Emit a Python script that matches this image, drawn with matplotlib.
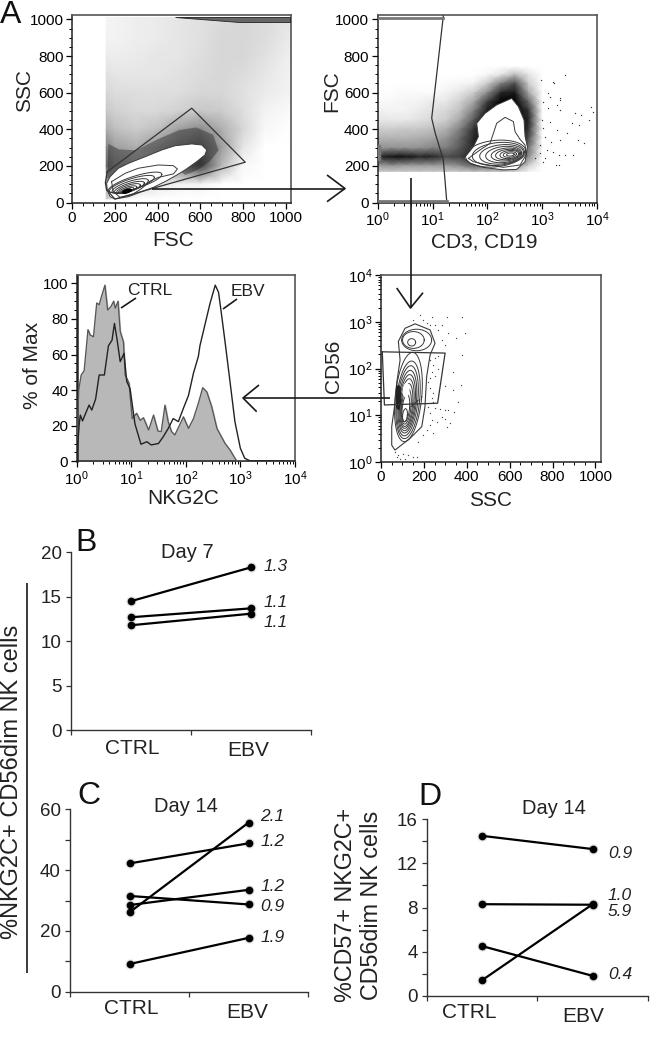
import numpy as np
import matplotlib
matplotlib.use('Agg')
import matplotlib.pyplot as plt
from matplotlib.patches import Polygon
from matplotlib.ticker import MultipleLocator

plt.rcParams['font.family'] = ['Liberation Sans', 'DejaVu Sans']
plt.rcParams['mathtext.default'] = 'regular'

W, H = 650, 1045
GREY_EDGE = '#555555'
RING = '#3a3a3a'

# --- A, top left: FSC / SSC
a1_xcols = [160, 200, 300, 400, 500, 600, 700, 800, 900, 1020]
a1_yrows = [1010, 900, 800, 700, 600, 500, 400, 300, 200, 100, 20]
a1_density = [
    [.04, .05, .07, .08, .10, .12, .14, .16, .14, .10],
    [.05, .05, .07, .08, .10, .12, .16, .16, .14, .08],
    [.08, .07, .08, .10, .10, .13, .16, .16, .12, .06],
    [.12, .10, .10, .10, .12, .14, .16, .14, .10, .05],
    [.16, .14, .13, .13, .13, .16, .16, .12, .08, .05],
    [.22, .18, .15, .15, .18, .22, .20, .13, .05, .02],
    [.32, .25, .20, .25, .38, .45, .32, .16, .03, 0],
    [.50, .38, .32, .42, .55, .65, .38, .10, 0, 0],
    [.60, .50, .40, .40, .50, .75, .28, .03, 0, 0],
    [.30, .30, .20, .10, .05, .05, 0, 0, 0, 0],
    [.20, .10, 0, 0, 0, 0, 0, 0, 0, 0],
]
a1_dense_band = [(165, 130), (170, 320), (220, 290), (300, 285), (400, 345), (500, 395), (580, 410),
                 (660, 370), (685, 285), (645, 225), (590, 180), (530, 150), (420, 240), (260, 170)]
a1_gate = [(165, 168), (560, 515), (810, 220), (201, 19), (162, 68), (156, 108)]
a1_top_wedge = [(482, 1012), (1020, 1012), (1020, 985), (780, 985)]
a1_outer = [(162, 105), (178, 141), (217, 187), (264, 214), (342, 250), (420, 287), (482, 310), (560, 320),
            (607, 314), (630, 287), (622, 260), (583, 223), (529, 178), (490, 150), (435, 114), (381, 83),
            (326, 59), (264, 32), (201, 19), (178, 32), (165, 68)]
a1_second = [(185, 114), (248, 159), (310, 187), (404, 205), (474, 201), (493, 183), (474, 156), (404, 137),
             (365, 117), (326, 77), (279, 41), (225, 28), (193, 59)]
# ring centre x, centre y, width, height
a1_rings = [(295, 110, 250, 70), (280, 100, 210, 62), (272, 90, 170, 54), (268, 82, 140, 46),
            (264, 76, 110, 38), (260, 70, 85, 30), (258, 66, 62, 22), (256, 62, 40, 14)]

# --- A, top right: CD3,CD19 / FSC, x in decades
a2_xcols = [0, .25, .5, .75, 1, 1.25, 1.5, 1.75, 2, 2.25, 2.5, 2.75, 3]
a2_yrows = [745, 700, 650, 600, 550, 500, 450, 400, 350, 300, 250, 200, 170]
a2_density = [
    [0, 0, 0, 0, 0, 0, 0, 0, 0, 0, 0, 0, 0],
    [0, 0, 0, 0, 0, 0, 0, 0, .03, .10, .25, .10, 0],
    [0, 0, 0, 0, 0, .02, .03, .05, .20, .50, .70, .20, 0],
    [0, .01, .02, .02, .02, .05, .10, .20, .45, .85, .90, .35, 0],
    [.02, .03, .04, .05, .08, .10, .18, .35, .75, 1, 1, .60, 0],
    [.06, .05, .05, .08, .12, .16, .25, .50, .90, 1, 1, .80, 0],
    [.10, .09, .09, .12, .15, .20, .35, .65, 1, 1, 1, .85, 0],
    [.20, .20, .22, .22, .25, .32, .50, .80, 1, 1, 1, .80, 0],
    [.30, .30, .30, .32, .35, .42, .60, .85, 1, 1, 1, .70, 0],
    [.42, .42, .42, .42, .48, .50, .65, .85, 1, 1, 1, .55, 0],
    [.80, .92, .92, .85, .85, .70, .75, .90, 1, 1, 1, .45, 0],
    [.38, .42, .38, .38, .38, .38, .45, .60, .55, .55, .45, .18, 0],
    [.22, .22, .22, .22, .22, .22, .22, .25, .25, .25, .20, .05, 0],
]
a2_outer = [(1.574, 241), (1.745, 305), (1.836, 360), (1.806, 433), (1.958, 487), (2.171, 533), (2.444, 569),
            (2.566, 524), (2.669, 451), (2.688, 360), (2.730, 305), (2.688, 223), (2.536, 181), (2.292, 178),
            (1.927, 192), (1.684, 214)]
a2_second = [(1.654, 241), (1.866, 287), (2.049, 323), (2.110, 378), (2.171, 433), (2.323, 465), (2.475, 442),
             (2.505, 387), (2.596, 345), (2.688, 314), (2.706, 260), (2.596, 205), (2.292, 192), (1.927, 210),
             (1.745, 223)]
a2_rings = [(2.15, 267, 1.10, 145), (2.20, 265, .95, 125), (2.26, 263, .80, 105), (2.30, 262, .66, 88),
            (2.34, 262, .54, 70), (2.37, 262, .44, 56), (2.40, 262, .34, 44), (2.41, 262, .24, 30),
            (2.42, 262, .14, 16)]
a2_gate = [(1.197, 1019), (.985, 460), (1.05, 378), (1.197, 232), (1.259, 8)]
a2_dots_dec = [3.14, 3.33, 3.02, 3.27, 3.11, 3.33, 2.99, 3.14, 3.02, 3.27, 3.54, 3.45, 3.66, 3.33, 3.05, 3.17,
               2.96, 3.08, 3.2, 3.3, 3.42, 2.96, 3.05, 3.3, 3.02, 2.87, 3.41, 3.19, 3.32, 3.59, 3.71, 3.89,
               3.92, 3.68, 3.86, 3.77, 3.56, 3.25, 3.22, 3.10, 2.98]
a2_dots_fsc = [578, 560, 551, 533, 515, 506, 451, 442, 405, 396, 433, 378, 342, 342, 360, 333,
               314, 287, 278, 260, 260, 269, 242, 205, 223, 242, 697, 660, 569, 487, 478, 524,
               496, 424, 451, 324, 260, 205, 651, 597, 670]

# --- A, lower left: histogram, x in decades
ctrl_dec = [0, .04, .085, .14, .21, .25, .31, .37, .415, .46, .52, .57, .63, .68, .71, .76, .80, .86, .89, .96,
            1.02, 1.10, 1.165, 1.225, 1.32, 1.41, 1.49, 1.55, 1.62, 1.68, 1.74, 1.80, 1.957, 2.05, 2.14, 2.23,
            2.31, 2.385, 2.475, 2.57, 2.72, 2.81, 2.92, 2.96, 4]
ctrl_pct = [0, 40, 48.5, 51, 74, 71, 70, 89, 88, 93, 99, 85, 87, 90, 86, 90, 73, 67, 48.5, 44,
            24, 27, 23, 24.5, 17.6, 26, 17, 16.7, 31.6, 22, 16.7, 14.8, 25, 18.5, 24, 32.6,
            41.4, 39, 30.7, 18.5, 10, 6.4, .7, 0, 0]
ebv_dec = [0, .05, .07, .11, .23, .28, .35, .415, .51, .585, .65, .695, .74, .80, .87, .92, .98, 1.07, 1.18, 1.29,
           1.366, 1.5, 1.59, 1.68, 1.77, 1.865, 1.957, 2.05, 2.14, 2.23, 2.26, 2.35, 2.445, 2.54, 2.6, 2.64,
           2.72, 2.81, 2.9, 3.0, 3.08, 3.18, 3.5, 4]
ebv_pct = [0, 21, 26, 22.7, 31.6, 28.8, 35, 48.5, 48.5, 65, 68, 77.5, 69, 56, 60.7, 44.8, 41, 21, 9.6, 11,
           9.2, 10, 13.9, 18.5, 24, 22.3, 29.8, 37, 49.4, 58.8, 65, 76.6, 88.8, 99, 95, 86,
           67, 44.8, 22.3, 7.3, 1.7, .2, .3, 0]

# --- A, lower right: SSC / CD56, y in decades
a4_outer = [(50, .36), (50, .755), (65, 1.255), (73, 1.68), (89, 2.18), (81, 2.58), (112, 2.86), (159, 2.955),
            (229, 2.825), (252, 2.54), (229, 2.29), (213, 1.83), (205, 1.18), (190, .755), (135, .505),
            (89, .34), (65, .255)]
a4_rings = [(128, 1.39, 124, 1.91), (126, 1.33, 109, 1.66), (124, 1.31, 96, 1.50), (123, 1.29, 84, 1.34),
            (122, 1.27, 74, 1.20), (121, 1.25, 64, 1.06), (120, 1.22, 54, .92), (118, 1.19, 44, .76),
            (116, 1.15, 34, .58), (112, 1.0, 22, .28)]
a4_upper_rings = [(166, 2.61, 140, .46), (151, 2.61, 101, .36), (143, 2.56, 37, .157)]
a4_black = [(70, 1.65), (92, 1.62), (95, 1.3), (86, 1.1), (70, 1.15)]
a4_gate = [(6, 2.357), (299, 2.33), (264, 1.257), (16, 1.22)]
a4_dots_ssc = [182, 236, 306, 376, 151, 197, 252, 283, 229, 213, 268, 314, 350, 392, 283, 299, 376, 252, 268, 229,
               244, 236, 229, 221, 252, 268, 334, 299, 334, 373, 229, 244, 236, 244, 361, 221, 252, 275, 299, 314,
               341, 229, 283, 236, 260, 299, 322, 229, 306, 213, 244, 197, 174, 65, 81, 104, 127, 151, 89, 112,
               135, 166, 73]
a4_dots_dec = [3.15, 3.11, 3.11, 3.10, 3.04, 3.03, 2.93, 2.93, 2.93, 2.97, 2.83, 2.76, 2.65, 2.76, 2.61, 2.51,
               2.29, 2.22, 2.26, 2.18, 2.08, 1.93, 1.79, 1.72, 1.83, 2.0, 1.93, 1.63, 1.54, 1.65, 1.58, 1.47,
               1.36, 1.29, 1.29, 1.18, 1.15, 1.13, 1.11, 1.11, 1.08, 1.04, .97, .90, .86, .93, .83, .79, .74,
               .68, .63, .58, .43, .22, .15, .18, .15, .11, .055, .055, .005, .11, .11]

# --- B, C, D
categories = ['CTRL', 'EBV']
b_ctrl = [14.5, 12.7, 11.8]
b_ebv = [18.3, 13.7, 13.1]
b_ratios = ['1.3', '1.1', '1.1']
b_ratio_y = [18.4, 14.35, 12.1]
c_ctrl = [26.1, 42.2, 28.5, 31.5, 9.1]
c_ebv = [55.6, 48.8, 33.5, 28.7, 17.7]
c_ratios = ['2.1', '1.2', '1.2', '0.9', '1.9']
c_ratio_y = [57.6, 49.4, 34.5, 28, 17.9]
d_ctrl = [14.5, 8.3, 1.4, 4.5]
d_ebv = [13.3, 8.25, 8.3, 1.8]
d_ratios = ['0.9', '1.0', '5.9', '0.4']
d_ratio_y = [12.9, 9.13, 7.68, 1.88]


def px_axes(fig, left, right, top, bottom):
    return fig.add_axes([left / W, 1 - bottom / H, (right - left) / W, (bottom - top) / H])


def ring(cx, cy, w, h, sx=0, sy=0):
    # sheared ellipse outline, sx/sy lean it along the population
    t = np.linspace(0, 2 * np.pi, 60)
    c, s = np.cos(t), np.sin(t)
    return cx + w / 2 * c + sx * h / 2 * s, cy + h / 2 * s + sy * w / 2 * c


def style_flow(ax):
    for side in ['top', 'right']:
        ax.spines[side].set_color(GREY_EDGE)
        ax.spines[side].set_linewidth(1.2)
    for side in ['left', 'bottom']:
        ax.spines[side].set_color('#222222')
        ax.spines[side].set_linewidth(1.1)
    ax.tick_params(which='major', length=4, width=.9, labelsize=11, pad=2)
    ax.tick_params(which='minor', length=2, width=.7)


def closed(ax, pts, color=RING, lw=.7, z=4):
    xs, ys = zip(*(list(pts) + [pts[0]]))
    ax.plot(xs, ys, color=color, lw=lw, zorder=z)


def linear_axis(axis):
    axis.set_major_locator(MultipleLocator(200))
    axis.set_minor_locator(MultipleLocator(50))


def decade_ticks(axis):
    axis.set_major_locator(matplotlib.ticker.LogLocator(base=10, numticks=6))
    axis.set_minor_locator(matplotlib.ticker.LogLocator(base=10, subs=np.arange(2, 10) * .1, numticks=6))
    axis.set_minor_formatter(matplotlib.ticker.NullFormatter())


def draw_pairs(ax, ctrl, ebv, ratios, ratio_y, ratio_x):
    for a, b in zip(ctrl, ebv):
        ax.plot([.5, 1.5], [a, b], color='#bbbbbb', marker='o', ms=6.5, lw=0, alpha=.35, zorder=2)
        ax.plot([.5, 1.5], [a, b], color='black', marker='o', ms=4.5, lw=1.6, zorder=3)
    for label, y in zip(ratios, ratio_y):
        ax.text(ratio_x, y, label, style='italic', fontsize=12.5, ha='center', va='center', color='#222222')
    ax.set_xlim(0, 2)
    ax.set_xticks([0, 1, 2])
    ax.set_xticklabels([])
    for side in ['top', 'right']:
        ax.spines[side].set_visible(False)
    for side in ['left', 'bottom']:
        ax.spines[side].set_color('#333333')
        ax.spines[side].set_linewidth(1)
    ax.tick_params(which='both', length=3.5, width=.9, labelsize=13.5, pad=3, color='#333333', labelcolor='#222222')
    ax.patch.set_alpha(0)


fig = plt.figure(figsize=(6.5, 10.45), dpi=100)

# A1
ax = px_axes(fig, 72, 291, 15, 202.5)
ax.pcolormesh(a1_xcols, a1_yrows, a1_density, cmap='gray_r', vmin=0, vmax=1, shading='gouraud', rasterized=True)
ax.add_patch(Polygon(a1_dense_band, closed=True, fc='#222222', ec='none', alpha=.42, zorder=2))
ax.add_patch(Polygon(a1_top_wedge, closed=True, fc='#666666', ec='#222222', lw=.6, zorder=3))
ax.add_patch(Polygon(a1_outer, closed=True, fc='white', ec=RING, lw=.7, zorder=3))
closed(ax, a1_second)
for cx, cy, w, h in a1_rings:
    ax.plot(*ring(cx, cy, w, h, sy=.35), color=RING, lw=.7, zorder=4)
ax.plot(*ring(256, 62, 34, 14, sy=.35), color='black', lw=1.6, zorder=4)
closed(ax, a1_gate, color='#333333', lw=.9, z=5)
ax.set_xlim(0, 1024)
ax.set_ylim(0, 1024)
linear_axis(ax.xaxis)
linear_axis(ax.yaxis)
style_flow(ax)

# A2
ax = px_axes(fig, 377.7, 597, 15, 202.5)
ax.set_xscale('log')
ax.pcolormesh(10 ** np.array(a2_xcols), a2_yrows, a2_density, cmap='gray_r', vmin=0, vmax=1, shading='gouraud',
              rasterized=True)
ax.scatter(10 ** np.array(a2_dots_dec), a2_dots_fsc, s=.9, c='#333333', lw=0, zorder=2)
ax.add_patch(Polygon([(10 ** d, f) for d, f in a2_outer], closed=True, fc='white', ec=RING, lw=.7, zorder=3))
closed(ax, [(10 ** d, f) for d, f in a2_second])
for cx, cy, w, h in a2_rings:
    xs, ys = ring(cx, cy, w, h, sy=25)
    ax.plot(10 ** xs, ys, color=RING, lw=.7, zorder=4)
gate_x, gate_y = zip(*a2_gate)
ax.plot(10 ** np.array(gate_x), gate_y, color='#333333', lw=.9, zorder=5)
ax.plot([1, 10 ** 1.197], [1010, 1010], color='#777777', lw=2, zorder=5)
ax.plot([1, 10 ** 1.259], [8, 8], color='#777777', lw=2, zorder=5)
ax.plot([1.05, 1.05], [240, 310], color='#777777', lw=2.5, zorder=5)
ax.set_xlim(1, 1e4)
ax.set_ylim(0, 1024)
decade_ticks(ax.xaxis)
linear_axis(ax.yaxis)
style_flow(ax)

# A3
ax = px_axes(fig, 76.5, 295, 275, 461.3)
ax.set_xscale('log')
ctrl_x = 10 ** np.array(ctrl_dec)
ebv_x = 10 ** np.array(ebv_dec)
ax.fill_between(ctrl_x, ctrl_pct, color='#b8b8b8', zorder=2)
ax.plot(ctrl_x, ctrl_pct, color='#555555', lw=.9, zorder=3)
ax.plot(ebv_x, ebv_pct, color='#222222', lw=1, zorder=4)
ax.set_xlim(1, 1e4)
ax.set_ylim(0, 104.7)
decade_ticks(ax.xaxis)
ax.yaxis.set_major_locator(MultipleLocator(20))
ax.yaxis.set_minor_locator(MultipleLocator(5))
style_flow(ax)
ax.spines['left'].set_linewidth(1.8)

# A4
ax = px_axes(fig, 381, 601, 275, 462)
ax.set_yscale('log')
ax.scatter(a4_dots_ssc, 10 ** np.array(a4_dots_dec), s=.9, c='#444444', lw=0, zorder=2)
ax.add_patch(Polygon([(s, 10 ** d) for s, d in a4_outer], closed=True, fc='white', ec=RING, lw=.8, zorder=3))
for cx, cy, w, h in a4_rings:
    xs, ys = ring(cx, cy, w, h, sx=20)
    ax.plot(xs, 10 ** ys, color=RING, lw=.7, zorder=4)
for cx, cy, w, h in a4_upper_rings:
    xs, ys = ring(cx, cy, w, h)
    ax.plot(xs, 10 ** ys, color=RING, lw=.7, zorder=4)
ax.add_patch(Polygon([(s, 10 ** d) for s, d in a4_black], closed=True, fc='#222222', ec='none', zorder=5))
xs, ys = ring(117, 1.54, 25, .29, sx=20)
ax.fill(xs, 10 ** ys, color='white', zorder=5)
closed(ax, [(s, 10 ** d) for s, d in a4_gate], color='#333333', lw=.9, z=6)
ax.set_xlim(0, 1026)
ax.set_ylim(1, 1e4)
decade_ticks(ax.yaxis)
linear_axis(ax.xaxis)
style_flow(ax)

# B
ax = px_axes(fig, 70.7, 310.7, 552.3, 730.3)
draw_pairs(ax, b_ctrl, b_ebv, b_ratios, b_ratio_y, 1.71)
ax.set_ylim(0, 20)
ax.set_yticks([0, 5, 10, 15, 20])

# C
ax = px_axes(fig, 70, 308, 809.3, 991.7)
draw_pairs(ax, c_ctrl, c_ebv, c_ratios, c_ratio_y, 1.70)
ax.set_ylim(0, 60)
ax.yaxis.set_major_locator(MultipleLocator(20))
ax.yaxis.set_minor_locator(MultipleLocator(10))

# D
ax = px_axes(fig, 426.7, 648, 819.3, 995.7)
draw_pairs(ax, d_ctrl, d_ebv, d_ratios, d_ratio_y, 1.747)
ax.set_ylim(0, 16)
ax.yaxis.set_major_locator(MultipleLocator(4))
ax.yaxis.set_minor_locator(MultipleLocator(2))

# overlay in pixel coordinates for arrows, letters and axis titles
ov = fig.add_axes([0, 0, 1, 1], zorder=20)
ov.set_xlim(0, W)
ov.set_ylim(H, 0)
ov.axis('off')
ov.patch.set_alpha(0)

for xs, ys in [([152, 345], [188.5, 188.5]), ([327, 345, 327], [175, 188.5, 201.7]),
               ([411, 411], [178, 308]), ([396.7, 410.5, 423], [288, 308, 292.7]),
               ([390, 243], [398, 398]), ([259, 243, 256.7], [385, 398, 411.7]),
               ([121, 136], [308, 298]), ([223, 237], [309, 299]),
               ([27, 27], [582.7, 972.7])]:
    ov.plot(xs, ys, color='#1a1a1a', lw=1.2, solid_capstyle='butt')

for x, y, s in [(11, 15, 'A'), (86, 543, 'B'), (89, 796, 'C'), (430, 797, 'D')]:
    ov.text(x, y, s, fontsize=23, ha='center', va='center', color='#111111')
for x, y, s, size in [(150, 290.5, 'CTRL', 12.5), (248, 291, 'EBV', 12.5), (187, 553, 'Day 7', 14.5),
                      (186, 807, 'Day 14', 14.5), (554, 808, 'Day 14', 14.5)]:
    ov.text(x, y, s, fontsize=size, ha='center', va='center', color='#222222')
for x, y, s in [(173, 241, 'FSC'), (484, 242, 'CD3, CD19'), (183, 499, 'NKG2C'), (491, 500, 'SSC')]:
    ov.text(x, y, s, fontsize=15, ha='center', va='center', color='#222222')
for x, y, s in [(25, 91, 'SSC'), (332, 91, 'FSC'), (33, 365, '% of Max'), (333, 366, 'CD56')]:
    ov.text(x, y, s, fontsize=15, ha='center', va='center', rotation=90, color='#222222')
for (x, y), s in zip([(132, 748), (248, 750), (131, 1009), (247, 1012), (469, 1012), (583, 1017)], categories * 3):
    ov.text(x, y, s, fontsize=15, ha='center', va='center', color='#222222')
ov.text(12, 782, '%NKG2C+ CD56dim NK cells', fontsize=17, rotation=90, ha='center', va='center', color='#222222')
ov.text(345, 905, '%CD57+ NKG2C+', fontsize=16.8, rotation=90, ha='center', va='center', color='#222222')
ov.text(372, 905, 'CD56dim NK cells', fontsize=16.8, rotation=90, ha='center', va='center', color='#222222')

fig.savefig('out.png', dpi=100)
